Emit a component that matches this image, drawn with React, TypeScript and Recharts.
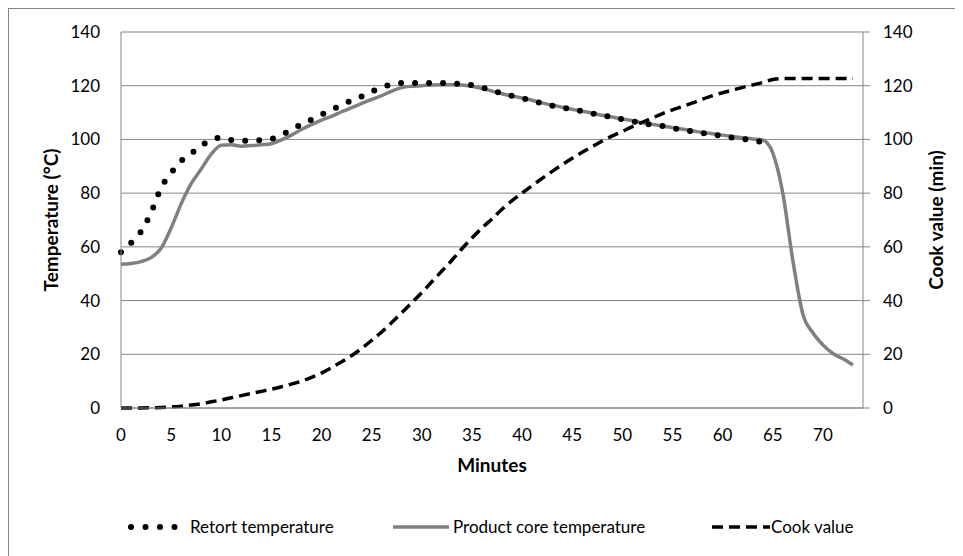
import { LineChart, Line, XAxis, YAxis, CartesianGrid } from 'recharts';

const minutes = [
  0, 1, 2, 3, 4, 5, 6, 7, 8, 9, 10, 11, 12, 13, 14, 15, 16, 17, 18, 19, 20, 21, 22, 23, 24,
  25, 26, 27, 28, 29, 30, 31, 32, 33, 34, 35, 36, 37, 38, 39, 40, 41, 42, 43, 44, 45, 46, 47,
  48, 49, 50, 51, 52, 53, 54, 55, 56, 57, 58, 59, 60, 61, 62, 63, 64, 65, 66, 67, 68, 69, 70,
  71, 72, 73,
];

// retort temperature (°C), logged until minute 64
const retortTemp = [
  58, 61.5, 65.7, 72.8, 82, 87.5, 92, 94.8, 97.6, 99.9, 100.6, 99.8, 99.5, 99.6, 99.7, 100.2,
  101.7, 103.6, 105.6, 107.4, 109.3, 111, 112.8, 114.5, 116, 117.8, 119.3, 120.5, 121, 121,
  121, 121, 121, 120.8, 120.6, 120.2, 119.3, 118.2, 117.1, 116.2, 115.3, 114.5, 113.4, 112.6,
  111.9, 111.2, 110.5, 109.7, 109, 108.2, 107.5, 106.8, 106, 105.4, 105, 104.3, 103.5, 103,
  102.4, 101.8, 101.3, 100.7, 100.2, 99.6, 99,
];

const coreTemp = [
  53.5, 53.8, 54.5, 56, 59.5, 67, 76, 83.5, 89, 94.5, 97.8, 98, 97.5, 97.7, 98, 98.4, 99.8,
  101.6, 103.7, 105.5, 107.2, 108.6, 110.3, 111.8, 113.4, 114.9, 116.3, 118, 119.3, 119.8, 120,
  120.3, 120.4, 120.4, 120.3, 119.8, 119, 118, 117, 116.2, 115.4, 114.6, 113.6, 112.8, 112,
  111.2, 110.5, 109.8, 109, 108.3, 107.6, 107, 106.2, 105.6, 105, 104.4, 103.8, 103.2, 102.6,
  102.1, 101.6, 101.1, 100.6, 100.2, 99.8, 95, 80, 55, 35, 28, 23.5, 20.3, 18.3, 16,
];

const cookValue = [
  0, 0, 0, 0.1, 0.2, 0.4, 0.7, 1.1, 1.6, 2.3, 3, 3.8, 4.6, 5.4, 6.2, 7, 7.9, 8.9, 10, 11.4, 13,
  15, 17.2, 19.5, 22.2, 25.2, 28.3, 31.8, 35.5, 39.2, 43, 47, 51, 55, 59.3, 63.3, 67, 70.4, 74,
  77.2, 80, 82.8, 85.5, 88.1, 90.6, 93, 95.2, 97.3, 99.4, 101.3, 103, 104.8, 106.4, 108, 109.6,
  111, 112.3, 113.6, 115, 116.3, 117.4, 118.4, 119.4, 120.3, 121.2, 122.3, 122.7, 122.7, 122.7,
  122.7, 122.7, 122.7, 122.7, 122.7,
];

const xTicks = [0, 5, 10, 15, 20, 25, 30, 35, 40, 45, 50, 55, 60, 65, 70];
const yTicks = [0, 20, 40, 60, 80, 100, 120, 140];

const rows = minutes.map((t, i) => ({
  t,
  retort: retortTemp[i],
  core: coreTemp[i],
  cook: cookValue[i],
}));

const FONT = 'Lato, "Open Sans", sans-serif';
const AXIS = '#868686';

const tickStyle = { fontFamily: FONT, fontSize: 17, fill: '#000' };
const titleStyle = { fontFamily: FONT, fontSize: 19, fontWeight: 700, fill: '#000' };

const YTitle = ({ viewBox, value, shift }: any) => {
  const x = viewBox.x + shift;
  const y = viewBox.y + viewBox.height / 2;
  return (
    <text
      x={x}
      y={y}
      transform={`rotate(-90 ${x} ${y})`}
      textAnchor="middle"
      dominantBaseline="central"
      style={titleStyle}
    >
      {value}
    </text>
  );
};

const legendText = { fontFamily: FONT, fontSize: 17, color: '#000', position: 'absolute' as const, top: 507, lineHeight: '22px' };

export default function App() {
  return (
    <div
      style={{
        position: 'relative',
        width: 955,
        height: 548,
        borderLeft: `1px solid ${AXIS}`,
        borderTop: `1px solid ${AXIS}`,
        background: '#fff',
      }}
    >
      <LineChart width={955} height={548} data={rows} margin={{ top: 23, right: 21, left: 20, bottom: 119 }}>
        <CartesianGrid vertical={false} stroke={AXIS} strokeWidth={1} yAxisId="left" />
        <XAxis
          dataKey="t"
          type="number"
          domain={[0, 74]}
          ticks={xTicks}
          interval={0}
          tickLine={false}
          tickMargin={15}
          axisLine={{ stroke: AXIS }}
          tick={tickStyle}
          height={30}
          label={{ value: 'Minutes', position: 'center', dy: 42, style: titleStyle }}
        />
        <YAxis
          yAxisId="left"
          domain={[0, 140]}
          ticks={yTicks}
          interval={0}
          tickLine={false}
          tickMargin={15}
          axisLine={{ stroke: AXIS }}
          tick={tickStyle}
          width={92}
          label={<YTitle value="Temperature (°C)" shift={21} />}
        />
        <YAxis
          yAxisId="right"
          orientation="right"
          domain={[0, 140]}
          ticks={yTicks}
          interval={0}
          tickSize={7}
          tickMargin={13}
          tickLine={{ stroke: AXIS }}
          axisLine={{ stroke: AXIS }}
          tick={tickStyle}
          width={80}
          label={<YTitle value="Cook value (min)" shift={72} />}
        />
        <Line
          yAxisId="left"
          dataKey="core"
          type="monotone"
          stroke="#808080"
          strokeWidth={3.5}
          dot={false}
          activeDot={false}
          isAnimationActive={false}
        />
        <Line
          yAxisId="left"
          dataKey="retort"
          type="monotone"
          stroke="#000"
          strokeWidth={6}
          strokeDasharray="0 14"
          strokeLinecap="round"
          dot={false}
          activeDot={false}
          connectNulls={false}
          isAnimationActive={false}
        />
        <Line
          yAxisId="right"
          dataKey="cook"
          type="monotone"
          stroke="#000"
          strokeWidth={3.5}
          strokeDasharray="11 6"
          dot={false}
          activeDot={false}
          isAnimationActive={false}
        />
      </LineChart>

      <svg style={{ position: 'absolute', left: 118, top: 510 }} width={52} height={16}>
        <line x1={4} y1={8} x2={48} y2={8} stroke="#000" strokeWidth={6} strokeDasharray="0 14.5" strokeLinecap="round" />
      </svg>
      <div style={{ ...legendText, left: 181 }}>Retort temperature</div>

      <svg style={{ position: 'absolute', left: 384, top: 510 }} width={56} height={16}>
        <line x1={0} y1={8} x2={56} y2={8} stroke="#808080" strokeWidth={3.5} />
      </svg>
      <div style={{ ...legendText, left: 444 }}>Product core temperature</div>

      <svg style={{ position: 'absolute', left: 703, top: 510 }} width={58} height={16}>
        <line x1={0} y1={8} x2={58} y2={8} stroke="#000" strokeWidth={3.5} strokeDasharray="11 6" />
      </svg>
      <div style={{ ...legendText, left: 762 }}>Cook value</div>
    </div>
  );
}
